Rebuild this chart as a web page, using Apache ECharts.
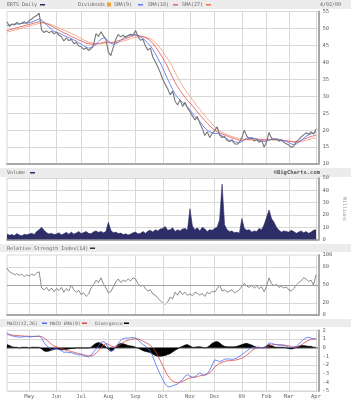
<!DOCTYPE html>
<html>
<head>
<meta charset="utf-8">
<script src="https://cdn.jsdelivr.net/npm/echarts@6/dist/echarts.min.js"></script>
<style>
html, body { margin: 0; padding: 0; background: #fff; }
#chart { width: 351px; height: 400px; }
</style>
</head>
<body>
<div id="chart"></div>
<script>
// x axis: month names (first month unlabeled) and samples (every 2nd trading day) per month
var monthNames = ['', 'May', 'Jun', 'Jul', 'Aug', 'Sep', 'Oct', 'Nov', 'Dec', '09', 'Feb', 'Mar', 'Apr'];
var monthSamples = [9, 11, 10, 11, 11, 11, 11, 10, 11, 10, 9, 11, 1];

// ERTS close
var close = [
  52.0, 50.6, 51.3, 51.0, 51.8, 51.2, 51.6, 52.0, 51.5,
  52.3, 52.8, 53.4, 53.8, 54.5, 49.5, 48.8, 49.3, 48.7, 49.2, 48.4,
  48.9, 48.0, 47.6, 46.3, 47.2, 46.4, 46.8, 45.5, 45.9, 44.8,
  44.6, 43.8, 44.3, 43.5, 44.0, 45.2, 48.5, 47.6, 49.0, 47.8, 46.8,
  43.0, 42.0, 44.5, 46.8, 48.2, 47.5, 48.0, 47.4, 47.9, 48.3, 48.0,
  49.4, 47.6, 46.5, 46.8, 44.8, 43.6, 44.2, 41.5, 40.2, 38.6, 37.0,
  35.0, 33.5, 32.2, 30.4, 31.5, 28.5, 27.4, 29.0, 27.0, 28.2, 26.5,
  25.5, 24.2, 23.0, 24.0, 22.0, 20.5, 18.4, 19.5, 17.8, 19.0,
  19.8, 21.0, 18.6, 17.8, 18.2, 17.0, 16.6, 17.2, 16.0, 15.8, 16.4,
  17.8, 20.0, 18.2, 17.4, 17.6, 16.8, 17.2, 16.4, 16.9, 15.0,
  16.5, 19.3, 17.6, 17.2, 17.4, 16.7, 17.0, 16.4, 16.0,
  15.6, 14.9, 15.3, 16.6, 17.2, 18.0, 18.6, 19.2, 18.8, 19.5, 18.8,
  20.3
];
var sma9 = [
  50.9, 51.0, 51.2, 51.3, 51.3, 51.4, 51.5, 51.5, 51.6,
  51.7, 51.9, 52.2, 52.5, 52.8, 52.5, 51.8, 51.0, 50.4, 49.8, 49.1,
  48.9, 48.6, 48.3, 47.9, 47.6, 47.3, 47.0, 46.6, 46.3, 45.8,
  45.4, 44.9, 44.5, 44.2, 44.3, 44.6, 45.4, 46.1, 46.8, 47.2, 47.0,
  46.2, 45.6, 45.4, 45.5, 45.9, 46.5, 47.1, 47.6, 47.8, 48.0, 48.1,
  48.2, 47.9, 47.5, 47.0, 46.4, 45.6, 44.9, 43.8, 42.6, 41.2, 39.8,
  38.3, 36.6, 35.0, 33.5, 32.0, 30.6, 29.6, 28.9, 28.2, 27.6, 26.8,
  26.0, 25.0, 24.0, 23.3, 22.5, 21.6, 20.6, 20.0, 19.5, 19.2,
  19.0, 19.0, 18.8, 18.3, 17.8, 17.4, 17.0, 16.8, 16.6, 16.4, 16.3,
  16.6, 17.2, 17.6, 17.8, 17.8, 17.6, 17.3, 17.0, 16.9, 16.6,
  16.7, 17.1, 17.3, 17.4, 17.4, 17.3, 17.1, 16.9, 16.7,
  16.3, 15.9, 15.7, 15.9, 16.4, 17.0, 17.6, 18.2, 18.6, 18.9, 19.1,
  19.4
];
var sma18 = [
  49.4, 49.6, 49.8, 50.0, 50.2, 50.4, 50.6, 50.8, 51.0,
  51.2, 51.4, 51.6, 51.8, 52.0, 51.9, 51.7, 51.4, 51.1, 50.7, 50.3,
  49.9, 49.5, 49.1, 48.7, 48.4, 48.0, 47.6, 47.3, 47.0, 46.6,
  46.3, 46.0, 45.7, 45.5, 45.4, 45.3, 45.4, 45.5, 45.7, 45.9, 46.0,
  46.0, 45.9, 45.9, 46.1, 46.4, 46.6, 46.8, 47.0, 47.3, 47.6, 47.8,
  47.9, 47.9, 47.8, 47.6, 47.3, 46.9, 46.4, 45.6, 44.6, 43.6, 42.5,
  41.3, 40.0, 38.6, 37.0, 35.5, 34.0, 32.8, 31.7, 30.7, 29.7, 28.8,
  28.0, 27.2, 26.3, 25.4, 24.5, 23.7, 22.8, 22.0, 21.3, 20.6,
  20.0, 19.5, 19.2, 18.9, 18.6, 18.3, 18.0, 17.7, 17.5, 17.2, 17.0,
  17.0, 17.1, 17.2, 17.3, 17.4, 17.4, 17.4, 17.3, 17.3, 17.2,
  17.2, 17.2, 17.2, 17.2, 17.2, 17.1, 17.0, 16.9, 16.8,
  16.7, 16.6, 16.5, 16.5, 16.6, 16.9, 17.3, 17.6, 17.9, 18.1, 18.3,
  18.5
];
var sma27 = [
  48.9, 49.1, 49.3, 49.5, 49.7, 49.9, 50.1, 50.3, 50.5,
  50.7, 50.9, 51.1, 51.3, 51.5, 51.6, 51.6, 51.5, 51.3, 51.1, 50.8,
  50.5, 50.1, 49.8, 49.5, 49.2, 48.9, 48.5, 48.2, 47.8, 47.4,
  47.0, 46.6, 46.3, 46.0, 45.8, 45.6, 45.5, 45.5, 45.5, 45.6, 45.7,
  45.8, 45.8, 45.8, 45.8, 45.9, 46.1, 46.3, 46.5, 46.7, 47.0, 47.2,
  47.4, 47.5, 47.5, 47.5, 47.4, 47.2, 47.0, 46.5, 45.8, 45.0, 44.3,
  43.2, 42.0, 41.0, 40.0, 38.5, 37.0, 35.6, 34.4, 33.2, 32.0, 30.9,
  30.0, 29.0, 28.0, 27.0, 26.1, 25.2, 24.3, 23.4, 22.6, 21.8,
  21.0, 20.4, 19.9, 19.4, 19.0, 18.7, 18.4, 18.1, 17.9, 17.7, 17.5,
  17.4, 17.3, 17.2, 17.1, 17.1, 17.0, 17.0, 17.0, 17.0, 17.0,
  17.0, 17.0, 17.1, 17.1, 17.1, 17.1, 17.0, 17.0, 16.9,
  16.8, 16.7, 16.6, 16.5, 16.5, 16.6, 16.8, 17.0, 17.2, 17.4, 17.6,
  17.7
];
// volume, millions
var volume = [
  4.5, 3.5, 4.0, 3.2, 4.8, 3.6, 3.0, 4.2, 3.8,
  4.5, 5.0, 4.0, 6.5, 8.0, 10.0, 7.5, 5.5, 4.5, 5.0, 4.0,
  4.5, 5.5, 3.8, 4.6, 5.8, 4.2, 6.0, 4.4, 5.2, 6.5,
  4.8, 5.6, 6.5, 5.0, 4.6, 6.2, 7.0, 5.8, 6.6, 5.4, 6.5,
  14.0, 7.5, 5.5, 6.0, 4.8, 5.2, 4.0, 4.6, 3.6, 4.4, 5.5,
  6.0, 4.5, 5.0, 6.5, 5.0, 6.8, 7.5, 6.0, 8.0, 7.0, 8.5,
  9.0, 10.5, 7.5, 8.0, 9.5, 6.5, 8.0, 7.0, 8.5, 9.0, 7.5,
  25.0, 11.0, 8.0, 9.5, 7.0, 10.0, 8.5, 6.5, 8.0, 7.5,
  9.0, 10.0, 16.0, 45.0, 12.0, 8.0, 6.5, 7.0, 5.5, 6.0, 5.0,
  17.0, 9.0, 7.5, 8.0, 6.0, 7.0, 6.5, 9.0, 8.0, 12.0,
  18.0, 24.0, 17.0, 14.0, 10.0, 7.5, 6.0, 7.0, 6.5,
  6.0, 7.5, 6.5, 5.0, 6.0, 7.0, 5.5, 6.5, 5.0, 6.0, 7.5,
  8.0
];
// RSI(14)
var rsi = [
  78, 72, 70, 67, 69, 66, 68, 64, 67,
  65, 68, 66, 70, 72, 45, 42, 46, 40, 45, 39,
  44, 41, 46, 38, 44, 40, 50, 42, 38, 41,
  34, 37, 31, 35, 45, 50, 58, 54, 62, 52, 45,
  37, 39, 47, 55, 60, 54, 58, 56, 60, 57, 62,
  60, 52, 48, 50, 44, 40, 42, 35, 33, 28, 24,
  20, 18, 22, 30, 27, 38, 33, 40, 34, 38, 33,
  35, 32, 38, 36, 33, 36, 31, 38, 35, 40,
  38, 44, 50, 40, 42, 38, 40, 42, 37, 39, 42,
  48, 53, 48, 46, 49, 45, 48, 44, 47, 39,
  48, 62, 52, 49, 51, 46, 48, 45, 47,
  42, 40, 44, 50, 54, 57, 62, 60, 56, 58, 50,
  67
];
// MACD(12,26), EMA(9) and divergence
var macd = [
  1.7, 1.5, 1.35, 1.3, 1.25, 1.2, 1.25, 1.25, 1.3,
  1.25, 1.25, 1.3, 1.3, 1.35, 1.1, 0.6, 0.2, 0.0, -0.25, -0.15,
  -0.05, -0.2, -0.35, -0.55, -0.5, -0.6, -0.55, -0.7, -0.75, -0.85,
  -0.8, -0.95, -1.0, -1.05, -0.9, -0.5, -0.2, 0.2, 0.6, 0.7, 0.5,
  0.0, -0.45, -0.3, 0.1, 0.5, 0.85, 1.05, 1.1, 1.1, 1.15, 1.15,
  1.1, 0.9, 0.6, 0.35, 0.2, -0.1, -0.45, -1.0, -1.8, -2.5, -3.1,
  -3.7, -4.2, -4.5, -4.5, -4.4, -4.3, -4.2, -3.9, -3.7, -3.3, -3.1,
  -3.3, -3.4, -3.4, -3.1, -2.9, -3.1, -3.2, -3.0, -2.6, -2.0,
  -1.4, -1.5, -1.6, -1.5, -1.35, -1.3, -1.3, -1.35, -1.3, -1.2, -1.0,
  -0.8, -0.6, -0.4, -0.15, 0.0, 0.05, 0.0, 0.0, 0.0, -0.05,
  0.2, 0.55, 0.5, 0.4, 0.35, 0.3, 0.3, 0.25, 0.15,
  0.05, 0.0, 0.05, 0.15, 0.4, 0.7, 0.95, 1.15, 1.2, 1.1, 1.0,
  1.05
];
var macdSignal = [
  1.5, 1.48, 1.45, 1.42, 1.4, 1.37, 1.35, 1.33, 1.32,
  1.3, 1.3, 1.3, 1.3, 1.3, 1.28, 1.1, 0.9, 0.65, 0.4, 0.2,
  0.1, 0.0, -0.1, -0.2, -0.3, -0.38, -0.45, -0.52, -0.6, -0.68,
  -0.75, -0.82, -0.9, -0.95, -0.95, -0.85, -0.65, -0.35, 0.0, 0.3, 0.45,
  0.4, 0.2, 0.1, 0.1, 0.2, 0.4, 0.6, 0.75, 0.85, 0.95, 1.0,
  1.02, 1.0, 0.9, 0.75, 0.6, 0.45, 0.25, 0.0, -0.4, -0.9, -1.5,
  -2.1, -2.7, -3.2, -3.6, -3.85, -4.0, -4.05, -4.0, -3.9, -3.75, -3.6,
  -3.5, -3.45, -3.4, -3.35, -3.25, -3.2, -3.15, -3.05, -2.9, -2.6,
  -2.25, -2.0, -1.8, -1.7, -1.6, -1.52, -1.5, -1.48, -1.45, -1.4, -1.32,
  -1.2, -1.05, -0.85, -0.6, -0.35, -0.15, -0.05, 0.0, 0.0, 0.0,
  0.05, 0.2, 0.3, 0.35, 0.35, 0.33, 0.32, 0.3, 0.25,
  0.2, 0.12, 0.08, 0.08, 0.15, 0.3, 0.5, 0.7, 0.85, 0.95, 1.0,
  1.02
];
var divergence = [
  0.35, 0.25, 0.1, 0.05, 0.05, -0.05, 0.05, 0.05, 0.05,
  -0.05, 0.05, 0.05, 0.05, 0.05, -0.15, -0.4, -0.45, -0.4, -0.3, -0.2,
  -0.15, -0.2, -0.25, -0.25, -0.2, -0.15, -0.1, -0.1, -0.05, -0.05,
  -0.05, -0.05, -0.05, -0.05, 0.05, 0.3, 0.5, 0.6, 0.5, 0.3, 0.1,
  -0.2, -0.4, -0.3, 0.1, 0.35, 0.5, 0.45, 0.35, 0.25, 0.2, 0.15,
  0.05, -0.05, -0.2, -0.35, -0.45, -0.5, -0.6, -0.75, -0.9, -1.0, -1.0,
  -0.95, -0.9, -0.8, -0.7, -0.5, -0.3, -0.15, 0.05, 0.15, 0.3, 0.35,
  0.2, 0.05, 0.05, 0.1, 0.1, 0.05, -0.05, 0.05, 0.25, 0.5,
  0.65, 0.7, 0.55, 0.3, 0.15, 0.1, 0.1, 0.1, 0.1, 0.15, 0.25,
  0.35, 0.45, 0.5, 0.4, 0.3, 0.15, 0.05, 0.05, 0.0, 0.05,
  0.2, 0.35, 0.25, 0.1, 0.05, 0.05, 0.05, 0.05, -0.05,
  -0.1, -0.15, -0.1, 0.05, 0.15, 0.25, 0.25, 0.2, 0.15, 0.15, 0.05,
  0.05
];
var rsiTicks = [0, 20, 50, 80, 100];

// categories: "month|monthIndex|sample"
var categories = [];
monthNames.forEach(function (m, i) {
  for (var k = 0; k < monthSamples[i]; k++) categories.push(m + '|' + i + '|' + k);
});
categories.push('end');

function monthStart(idx, val) {
  var p = String(val).split('|');
  return p.length === 3 && p[2] === '0' && p[0] !== '';
}

var FONT = 'DejaVu Sans Mono';
var txt = '#666';
var gridCol = '#d8d8d8';
var axisCol = '#a8a8a8';

var chart = echarts.init(document.getElementById('chart'), null, { renderer: 'canvas' });

var grids = [
  { left: 7, top: 11.5, width: 311.5, height: 152.5 },
  { left: 7, top: 178, width: 311.5, height: 61.5 },
  { left: 7, top: 255, width: 311.5, height: 60 },
  { left: 7, top: 330.3, width: 311.5, height: 60.9 }
];
grids.forEach(function (g) {
  g.show = true; g.borderColor = gridCol; g.borderWidth = 1; g.backgroundColor = '#fff';
});

var xAxes = [0, 1, 2, 3].map(function (i) {
  return {
    type: 'category', gridIndex: i, data: categories, boundaryGap: false,
    axisLine: { show: true, lineStyle: { color: axisCol, width: 2 } },
    axisTick: { show: false },
    axisLabel: {
      show: i === 3, interval: monthStart, color: txt, fontSize: 5.5, fontFamily: FONT, margin: 3,
      formatter: function (v) { return v.split('|')[0]; }
    },
    splitLine: { show: true, interval: monthStart, lineStyle: { color: gridCol, width: 1 } }
  };
});

function yAx(i, min, max, interval, extra) {
  var a = {
    type: 'value', gridIndex: i, position: 'right', min: min, max: max, interval: interval,
    axisLine: { show: true, lineStyle: { color: axisCol, width: 2 } },
    axisTick: { show: false },
    axisLabel: { color: txt, fontSize: 5.5, fontFamily: FONT, margin: 4 },
    splitLine: { show: true, lineStyle: { color: gridCol, width: 1 } }
  };
  return Object.assign(a, extra || {});
}

var yAxes = [
  yAx(0, 10, 55, 5),
  yAx(1, 0, 50, 10),
  yAx(2, 0, 100, 10, {
    axisLabel: { color: txt, fontSize: 5.5, fontFamily: FONT, margin: 4, customValues: rsiTicks },
    axisTick: { show: false, customValues: rsiTicks },
    splitLine: { show: false }
  }),
  yAx(3, -5, 2, 1)
];

function line(name, x, data, color, width, extra) {
  return Object.assign({
    name: name, type: 'line', xAxisIndex: x, yAxisIndex: x, data: data,
    symbol: 'none', lineStyle: { color: color, width: width }, itemStyle: { color: color },
    silent: true
  }, extra || {});
}

function label(text, x, y, size, more) {
  return Object.assign({
    type: 'text', x: x, y: y, silent: true,
    style: { text: text, fill: txt, font: size + 'px ' + FONT }
  }, more || {});
}
function mark(x, y, w, h, color) {
  return { type: 'rect', shape: { x: x, y: y, width: w, height: h }, style: { fill: color }, silent: true };
}

var option = {
  animation: false,
  backgroundColor: '#fff',
  grid: grids,
  xAxis: xAxes,
  yAxis: yAxes,
  series: [
    line('SMA(27)', 0, sma27, '#f4a284', 0.9, { z: 2 }),
    line('SMA(18)', 0, sma18, '#e86060', 0.9, { z: 2 }),
    line('SMA(9)', 0, sma9, '#5b7cf0', 0.9, { z: 3 }),
    line('ERTS Daily', 0, close, '#767676', 1.1, { z: 4 }),
    line('Volume', 1, volume, '#2d2d68', 0.6, { areaStyle: { color: '#2d2d68', opacity: 1 } }),
    line('Relative Strength Index(14)', 2, rsi, '#5a5a5a', 0.7, {
      markLine: {
        silent: true, symbol: 'none', label: { show: false },
        data: [
          { yAxis: 20, lineStyle: { color: gridCol, width: 1, type: 'solid' } },
          { yAxis: 50, lineStyle: { color: '#a0a0a0', width: 1, type: 'solid' } },
          { yAxis: 80, lineStyle: { color: gridCol, width: 1, type: 'solid' } }
        ]
      }
    }),
    line('Divergence', 3, divergence, '#000', 0.6, { areaStyle: { color: '#000', opacity: 1 }, z: 2 }),
    line('MACD EMA(9)', 3, macdSignal, '#e04848', 0.8, { z: 3 }),
    line('MACD(12,26)', 3, macd, '#4a6cf0', 0.8, { z: 4 })
  ],
  graphic: [
    // header bars
    mark(0, 0, 351, 9, '#ececec'),
    mark(0, 168, 351, 9, '#ececec'),
    mark(0, 244, 351, 8, '#ececec'),
    mark(0, 319, 351, 8, '#ececec'),
    // top header
    label('ERTS Daily', 7, 2, 5),
    mark(40, 4, 5, 1.5, '#2d2d68'),
    label('Dividends', 78, 2, 5),
    mark(107, 2.5, 4, 4, '#f0a030'),
    label('SMA(9)', 114, 2, 5),
    mark(138, 4, 5, 1.5, '#5b7cf0'),
    label('SMA(18)', 148, 2, 5),
    mark(173, 4, 5, 1.5, '#e86060'),
    label('SMA(27)', 182, 2, 5),
    mark(206, 4, 5, 1.5, '#f07040'),
    label('4/02/09', 341, 2, 5, { style: { text: '4/02/09', fill: txt, font: '5px ' + FONT, textAlign: 'right' } }),
    // volume header
    label('Volume', 7, 170.5, 5),
    mark(30, 172, 5, 1.5, '#2d2d68'),
    label('\u00a9BigCharts.com', 320, 170, 5.5, { style: { text: '\u00a9BigCharts.com', fill: '#555', font: 'bold 5.5px ' + FONT, textAlign: 'right' } }),
    label('Millions', 347, 209, 5, { rotation: -Math.PI / 2, style: { text: 'Millions', fill: '#999', font: '5px ' + FONT, textAlign: 'center' } }),
    // RSI header
    label('Relative Strength Index(14)', 7, 246, 5),
    mark(90, 247.5, 5, 1.5, '#333'),
    // MACD header
    label('MACD(12,26)', 7, 321, 4.6),
    mark(42, 322.5, 5, 1.5, '#4a6cf0'),
    label('MACD EMA(9)', 50, 321, 4.6),
    mark(82, 322.5, 5, 1.5, '#e04848'),
    label('Divergence', 95, 321, 4.6),
    mark(124, 322.5, 5, 1.5, '#000')
  ]
};

chart.setOption(option);
</script>
</body>
</html>
